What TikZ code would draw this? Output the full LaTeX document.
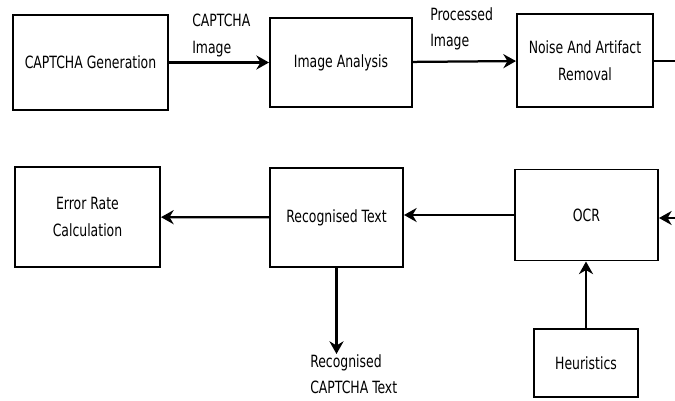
\documentclass[tikz,border=0pt]{standalone}
\usepackage{fontspec}
\setmainfont[FakeStretch=0.82]{DejaVu Sans Condensed}
\usetikzlibrary{arrows.meta}
\tikzset{
  blk/.style={draw, line width=1.4pt, align=center, inner sep=2pt},
  lnk/.style={line width=1.6pt, -{Stealth[length=9pt,width=10pt]}},
  lbl/.style={align=left, inner sep=0pt, anchor=north west},
}
\begin{document}
\begin{tikzpicture}[x=0.025cm, y=-0.025cm, font=\fontsize{12}{19}\selectfont]
  \useasboundingbox (0,0) rectangle (675,400);
  % top row
  \node[blk, minimum width=3.875cm, minimum height=2.375cm] (gen) at (90.5,62.5) {CAPTCHA Generation};
  \node[blk, minimum width=3.55cm, minimum height=2.225cm] (ana) at (341,62.5) {Image Analysis};
  \node[blk, minimum width=3.4cm, minimum height=2.325cm] (noise) at (585,60.5) {Noise And Artifact\\Removal};
  % bottom row
  \node[blk, minimum width=3.625cm, minimum height=2.5cm] (err) at (87.5,217) {Error Rate\\Calculation};
  \node[blk, minimum width=3.325cm, minimum height=2.475cm] (rec) at (336.5,217.5) {Recognised Text};
  \node[blk, minimum width=3.575cm, minimum height=2.275cm] (ocr) at (586.5,215) {OCR};
  \node[blk, minimum width=2.6cm, minimum height=1.7cm] (heu) at (586,363) {Heuristics};
  % labels
  \node[lbl] (l1) at (192,14) {CAPTCHA\\Image};
  \node[lbl] (l2) at (430,7) {Processed\\Image};
  \node[lbl] (out) at (310,354) {Recognised\\CAPTCHA Text};
  \coordinate (o1) at (675,61);
  \coordinate (i1) at (675,218);
  % connectors
  \draw[lnk] (gen) -- (ana);
  \draw[lnk] (ana) -- (noise);
  \draw[line width=1.6pt] (noise.east |- o1) -- (o1);
  \draw[lnk] (i1) -- (i1 -| ocr.east);
  \draw[lnk] (ocr.west) -- (ocr.west -| rec.east);
  \draw[lnk] (rec) -- (err);
  \draw[lnk] (heu) -- (heu |- ocr.south);
  \draw[lnk] (rec.south) -- (rec.south |- out.north);
\end{tikzpicture}
\end{document}
